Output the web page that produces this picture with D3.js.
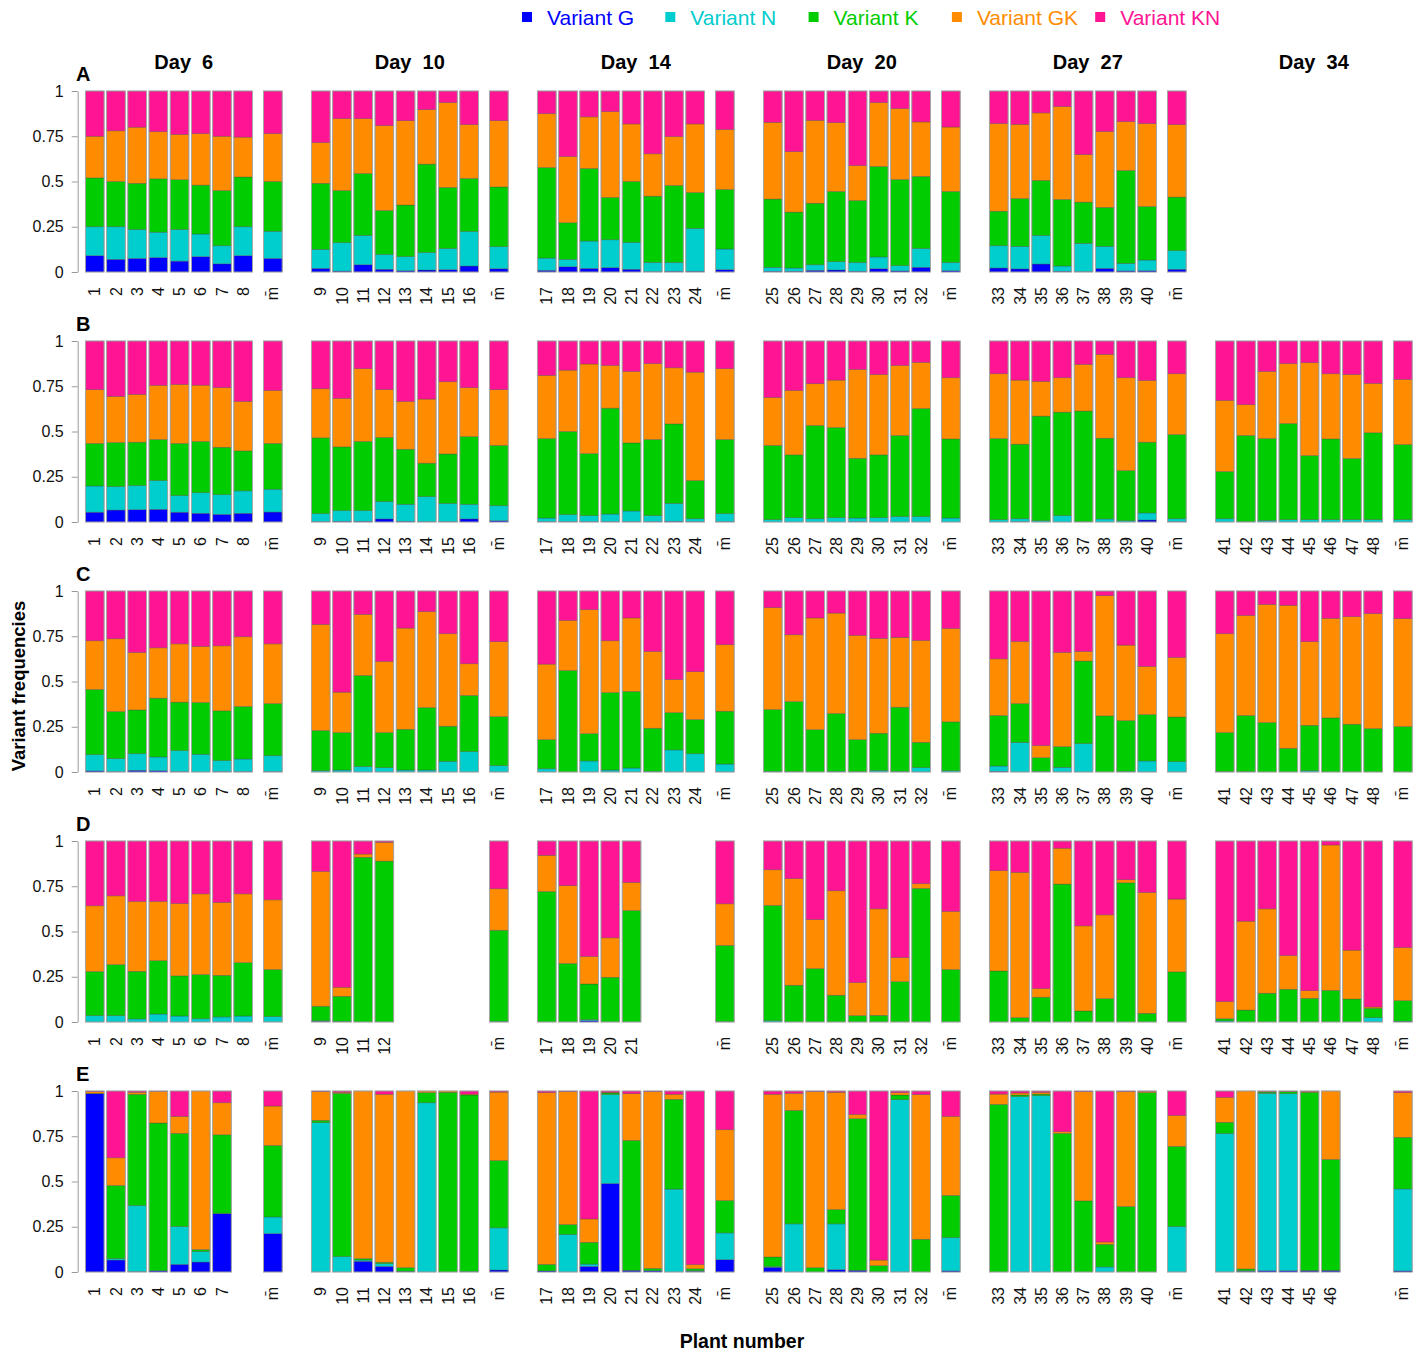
<!DOCTYPE html>
<html>
<head>
<meta charset="utf-8">
<script src="https://cdn.jsdelivr.net/npm/d3@7"></script>
<style>
  body { margin: 0; background: #fff; }
  svg { font-family: "Liberation Sans", Arial, sans-serif; }
</style>
</head>
<body>
<svg id="chart" width="1421" height="1352"></svg>
<script>
// variant names, bottom to top of each stack
const variants = ["Variant G", "Variant N", "Variant K", "Variant GK", "Variant KN"];
const colors = ["#0000FF", "#00CDCD", "#00CD00", "#FF8C00", "#FF1493"];

const days = [6, 10, 14, 20, 27, 34];
const rowLetters = ["A", "B", "C", "D", "E"];

// plant numbers per day (column)
const dayPlants = [
  [1, 2, 3, 4, 5, 6, 7, 8],
  [9, 10, 11, 12, 13, 14, 15, 16],
  [17, 18, 19, 20, 21, 22, 23, 24],
  [25, 26, 27, 28, 29, 30, 31, 32],
  [33, 34, 35, 36, 37, 38, 39, 40],
  [41, 42, 43, 44, 45, 46, 47, 48]
];

// each panel: 8 plants + mean, each bar = [G, N, K, GK, KN]; null = no plant
const rowA = [
  [[.09,.16,.27,.23,.25],[.07,.18,.25,.28,.22],[.075,.16,.255,.31,.20],[.08,.14,.295,.26,.225],
   [.06,.175,.275,.25,.24],[.085,.125,.27,.285,.235],[.045,.10,.305,.30,.25],[.09,.16,.275,.22,.255],
   [.075,.15,.275,.265,.235]],
  [[.02,.105,.365,.225,.285],[.005,.157,.288,.397,.153],[.04,.162,.342,.303,.153],[.015,.082,.243,.469,.191],
   [.007,.078,.285,.466,.164],[.011,.097,.488,.301,.103],[.013,.117,.337,.469,.064],[.033,.191,.293,.297,.186],
   [.018,.122,.33,.366,.164]],
  [[.009,.068,.50,.298,.125],[.029,.041,.202,.366,.362],[.02,.151,.401,.285,.143],[.024,.154,.234,.474,.114],
   [.015,.149,.336,.318,.182],[.002,.051,.366,.234,.347],[.004,.049,.425,.27,.252],[.004,.237,.198,.379,.182],
   [.013,.114,.329,.331,.213]],
  [[.004,.022,.377,.424,.173],[.004,.018,.309,.334,.335],[.009,.031,.34,.458,.162],[.011,.046,.388,.38,.175],
   [.004,.049,.342,.193,.412],[.018,.065,.50,.353,.064],[.006,.029,.476,.392,.097],[.026,.104,.398,.301,.171],
   [.007,.046,.392,.356,.199]],
  [[.022,.123,.191,.484,.18],[.017,.125,.264,.41,.184],[.044,.158,.304,.373,.121],[.004,.029,.368,.513,.086],
   [.002,.156,.228,.263,.351],[.02,.122,.215,.419,.224],[.006,.042,.513,.27,.169],[.007,.059,.296,.458,.18],
   [.015,.103,.296,.40,.186]],
  null
];

const rowB = [
  [[.054,.145,.235,.297,.269],[.066,.13,.243,.255,.306],[.068,.133,.24,.264,.295],[.07,.159,.227,.299,.245],
   [.054,.092,.288,.326,.24],[.048,.114,.283,.311,.244],[.042,.109,.262,.329,.258],[.048,.124,.221,.273,.334],
   [.055,.126,.253,.293,.273]],
  [[.002,.044,.419,.271,.264],[.004,.059,.352,.268,.317],[.004,.059,.382,.402,.153],[.017,.096,.354,.265,.268],
   [.004,.094,.304,.264,.334],[.002,.138,.185,.354,.321],[.002,.101,.273,.399,.225],[.017,.081,.374,.27,.258],
   [.007,.083,.333,.308,.269]],
  [[.002,.02,.439,.349,.19],[.002,.039,.459,.339,.161],[.002,.033,.343,.495,.127],[.002,.042,.585,.236,.135],
   [.002,.059,.376,.395,.168],[.002,.033,.421,.419,.125],[.004,.099,.439,.31,.148],[.002,.016,.211,.599,.172],
   [.002,.044,.41,.391,.153]],
  [[0,.013,.41,.265,.312],[0,.024,.347,.356,.273],[0,.018,.515,.231,.236],[0,.024,.498,.262,.216],
   [.002,.02,.33,.491,.157],[0,.024,.347,.444,.185],[0,.03,.448,.387,.135],[0,.03,.597,.255,.118],
   [0,.022,.437,.338,.203]],
  [[0,.013,.448,.358,.181],[.002,.016,.412,.354,.216],[0,.007,.578,.192,.223],[0,.035,.572,.19,.203],
   [0,.002,.611,.258,.129],[0,.017,.446,.463,.074],[0,.007,.277,.513,.203],[.011,.039,.391,.341,.218],
   [.002,.016,.465,.336,.181]],
  [[0,.018,.261,.393,.328],[0,.002,.476,.17,.352],[0,.009,.452,.371,.168],[0,.013,.531,.331,.125],
   [0,.013,.354,.513,.12],[0,.013,.446,.36,.181],[0,.013,.338,.464,.185],[0,.013,.48,.273,.234],
   [0,.013,.415,.36,.212]]
];

const rowC = [
  [[.006,.09,.36,.269,.275],[.002,.072,.26,.402,.264],[.009,.092,.242,.318,.339],[.007,.076,.325,.278,.314],
   [.002,.116,.268,.322,.292],[0,.098,.286,.31,.306],[.002,.061,.275,.359,.303],[.002,.07,.29,.385,.253],
   [.002,.088,.288,.33,.292]],
  [[0,.007,.222,.586,.185],[0,.011,.207,.223,.559],[0,.03,.503,.338,.129],[0,.024,.194,.393,.389],
   [0,.011,.225,.559,.205],[0,.011,.345,.53,.114],[0,.059,.194,.511,.236],[0,.113,.31,.175,.402],
   [0,.035,.271,.414,.28]],
  [[0,.018,.161,.417,.404],[0,0,.561,.277,.162],[0,.061,.151,.685,.103],[0,.011,.428,.286,.275],
   [0,.022,.423,.406,.149],[0,.004,.238,.424,.334],[0,.122,.206,.183,.489],[0,.101,.189,.264,.446],
   [0,.044,.292,.367,.297]],
  [[0,.004,.341,.563,.092],[0,.002,.387,.369,.242],[0,0,.234,.617,.149],[0,.004,.319,.555,.122],
   [0,.002,.177,.576,.245],[0,.009,.205,.524,.262],[0,.004,.354,.386,.256],[0,.024,.14,.563,.273],
   [0,.007,.27,.516,.207]],
  [[.004,.029,.279,.313,.375],[0,.164,.214,.343,.279],[0,.004,.075,.067,.854],[0,.026,.114,.521,.339],
   [0,.157,.456,.053,.334],[0,0,.31,.664,.026],[0,.004,.28,.417,.299],[0,.061,.256,.266,.417],
   [0,.057,.247,.329,.367]],
  [[0,.002,.216,.546,.236],[0,.002,.31,.553,.135],[0,0,.273,.653,.074],[0,0,.131,.79,.079],
   [0,.007,.251,.462,.28],[0,0,.299,.55,.151],[0,0,.264,.594,.142],[0,0,.24,.635,.125],
   [0,0,.251,.596,.153]]
];

const rowD = [
  [[0,.035,.244,.363,.358],[0,.035,.282,.38,.303],[0,.017,.263,.386,.334],[0,.044,.295,.327,.334],
   [0,.033,.222,.40,.345],[0,.018,.244,.446,.292],[0,.028,.23,.403,.339],[0,.033,.295,.38,.292],
   [0,.03,.26,.385,.325]],
  [[.003,.004,.08,.745,.168],[.002,.002,.138,.05,.808],[0,0,.91,.018,.072],[0,0,.889,.104,.007],
   null, null, null, null,
   [0,.004,.503,.229,.264]],
  [[0,0,.721,.20,.079],[0,0,.323,.43,.247],[.007,.006,.197,.152,.638],[0,0,.247,.218,.535],
   [0,0,.616,.155,.229], null, null, null,
   [0,.002,.421,.23,.347]],
  [[0,.007,.637,.197,.159],[0,0,.203,.589,.208],[0,0,.295,.271,.434],[0,0,.148,.577,.275],
   [0,0,.035,.183,.782],[0,0,.037,.588,.375],[0,0,.223,.133,.644],[0,0,.738,.026,.236],
   [0,0,.29,.321,.389]],
  [[0,0,.282,.554,.164],[0,0,.024,.803,.173],[0,0,.137,.048,.815],[0,0,.762,.198,.04],
   [0,0,.061,.47,.469],[0,0,.129,.463,.408],[0,0,.769,.017,.214],[0,0,.048,.668,.284],
   [0,0,.277,.402,.321]],
  [[0,.006,.012,.095,.887],[0,0,.066,.491,.443],[0,0,.159,.466,.375],[0,0,.181,.186,.633],
   [0,0,.131,.042,.827],[0,0,.175,.803,.022],[0,0,.127,.27,.603],[0,.024,.052,.007,.917],
   [.004,0,.114,.293,.589]]
];

const rowE = [
  [[.985,0,.002,.009,.004],[.066,.008,.404,.153,.369],[.002,.365,.615,.011,.007],[.007,0,.816,.175,.002],
   [.042,.209,.515,.094,.14],[.055,.059,.01,.876,0],[.323,0,.435,.177,.065], null,
   [.212,.092,.395,.218,.083]],
  [[0,.825,.013,.158,.004],[0,.085,.902,.006,.007],[.059,.007,.008,.926,0],[.031,.015,.008,.928,.018],
   [.004,0,.02,.976,0],[0,.935,.056,.009,0],[0,0,.993,.007,0],[0,.004,.974,.005,.017],
   [.011,.233,.372,.378,.006]],
  [[.006,0,.036,.949,.009],[0,.208,.054,.734,.004],[.031,.013,.12,.129,.707],[.489,.491,.009,.004,.007],
   [.009,0,.718,.258,.015],[.007,0,.013,.976,.004],[0,.458,.496,.028,.018],[.004,.003,.011,.023,.959],
   [.068,.148,.179,.391,.214]],
  [[.026,.004,.053,.899,.018],[0,.266,.627,.094,.013],[0,0,.024,.972,.004],[.013,.253,.079,.648,.007],
   [.009,0,.838,.024,.129],[0,0,.035,.031,.934],[0,.952,.026,.013,.009],[0,0,.181,.799,.02],
   [.006,.184,.233,.437,.14]],
  [[0,0,.926,.057,.017],[0,.969,.009,.011,.011],[0,.974,.009,.01,.007],[0,0,.766,.009,.225],
   [0,0,.393,.603,.004],[0,.028,.125,.013,.834],[0,0,.362,.634,.004],[0,0,.991,.007,.002],
   [0,.251,.443,.171,.135]],
  [[0,.766,.061,.138,.035],[.004,.003,.01,.983,0],[.007,.98,.007,.004,.002],[.007,.978,.011,.002,.002],
   [.006,.003,.984,.005,.002],[.007,.002,.613,.378,0], null, null,
   [.006,.453,.285,.247,.009]]
];

const rows = [rowA, rowB, rowC, rowD, rowE];

// ---- layout ----
const svg = d3.select("#chart");
const panelLeft0 = 85.4, panelStep = 226.0;
const slot = 21.2, barW = 18.7;
const meanSlot = 8.4;
const rowTop0 = 91, rowStep = 250, rowH = 181;

// legend
const legend = svg.append("g");
variants.forEach(function(v, i) {
  let lx = 522 + i * 143.3;
  legend.append("rect")
    .attr("x", lx).attr("y", 12).attr("width", 10).attr("height", 10)
    .attr("fill", colors[i]);
  legend.append("text")
    .attr("x", lx + 25).attr("y", 25)
    .attr("font-size", 21)
    .attr("fill", colors[i])
    .text(v);
});

// day headers
days.forEach(function(d, c) {
  let left = panelLeft0 + c * panelStep;
  svg.append("text")
    .attr("x", left + (meanSlot * slot + barW) / 2)
    .attr("y", 69)
    .attr("text-anchor", "middle")
    .attr("font-size", 20)
    .attr("font-weight", "bold")
    .style("white-space", "pre")
    .text("Day  " + d);
});

rows.forEach(function(row, r) {
  let y = d3.scaleLinear()
    .domain([0, 1])
    .range([rowTop0 + r * rowStep + rowH, rowTop0 + r * rowStep]);

  // row letter
  svg.append("text")
    .attr("x", 76).attr("y", rowTop0 + r * rowStep - 10)
    .attr("font-size", 20).attr("font-weight", "bold")
    .text(rowLetters[r]);

  // y axis on first column
  let ax = svg.append("g")
    .attr("transform", "translate(77.7,0)")
    .call(d3.axisLeft(y)
      .tickValues([0, 0.25, 0.5, 0.75, 1])
      .tickFormat(function(d) { return String(d); })
      .tickSize(6).tickSizeOuter(0).tickPadding(8));
  ax.selectAll("path, line").attr("stroke", "#9a9a9a");
  ax.selectAll("text").attr("font-size", 16).attr("fill", "#111")
    .attr("font-family", "'Liberation Sans', Arial, sans-serif");

  row.forEach(function(panel, c) {
    if (!panel) return;
    let left = panelLeft0 + c * panelStep;
    let x = d3.scaleLinear().domain([0, 1]).range([left, left + slot]);
    let labels = dayPlants[c].map(String).concat(["m\u0304"]);
    let g = svg.append("g");

    panel.forEach(function(bar, i) {
      if (!bar) return;
      let pos = i < 8 ? i : meanSlot;
      let bx = x(pos);
      let total = d3.sum(bar);
      let tops = Array.from(d3.cumsum(bar, function(v) { return v / total; }));
      bar.forEach(function(v, k) {
        let y0 = k === 0 ? 0 : tops[k - 1];
        let y1 = tops[k];
        if (y1 - y0 <= 0) return;
        g.append("rect")
          .attr("x", bx).attr("width", barW)
          .attr("y", y(y1)).attr("height", y(y0) - y(y1))
          .attr("fill", colors[k])
          .attr("stroke", "rgba(70,70,70,0.55)")
          .attr("stroke-width", 0.6);
      });
      // outer border
      g.append("rect")
        .attr("x", bx).attr("width", barW)
        .attr("y", y(1)).attr("height", y(0) - y(1))
        .attr("fill", "none")
        .attr("stroke", "#a8a8a8")
        .attr("stroke-width", 0.9);

      // plant label
      let lx = bx + barW / 2, ly = y(0) + 15;
      g.append("text")
        .attr("transform", "translate(" + lx + "," + ly + ") rotate(-90)")
        .attr("text-anchor", "end")
        .attr("dy", "0.35em")
        .attr("font-size", 16)
        .attr("fill", "#111")
        .text(labels[i]);
    });
  });
});

// axis titles
svg.append("text")
  .attr("transform", "translate(25,686) rotate(-90)")
  .attr("text-anchor", "middle")
  .attr("font-size", 18.5).attr("font-weight", "bold")
  .text("Variant frequencies");

svg.append("text")
  .attr("x", 742).attr("y", 1348)
  .attr("text-anchor", "middle")
  .attr("font-size", 19.5).attr("font-weight", "bold")
  .text("Plant number");
</script>
</body>
</html>
